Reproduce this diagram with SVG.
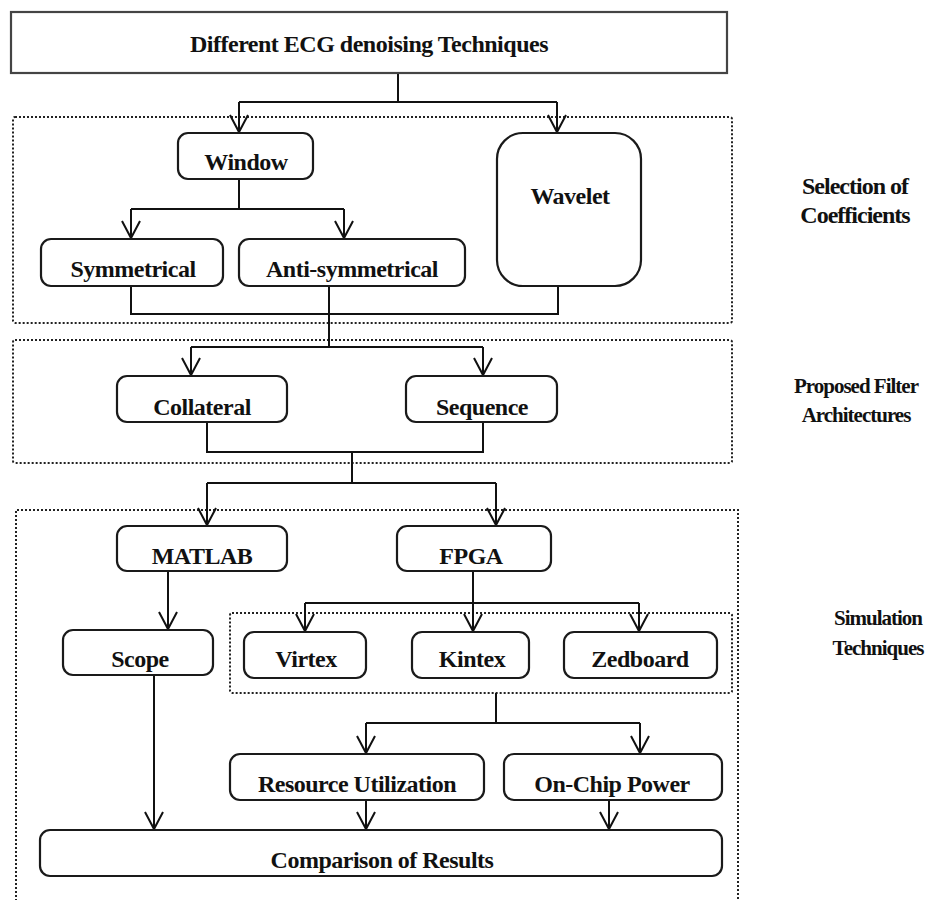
<svg xmlns="http://www.w3.org/2000/svg" width="929" height="900" viewBox="0 0 929 900">
<defs>
<style>
.box{fill:#fff;stroke:#1a1a1a;stroke-width:2.2}
.top{fill:#fff;stroke:#444;stroke-width:2.2}
.dash{fill:none;stroke:#222;stroke-width:2;stroke-dasharray:2 2}
.c{fill:none;stroke:#111;stroke-width:2}
.t{font-family:"Liberation Serif","Times New Roman",serif;font-weight:bold;font-size:24px;fill:#111;text-anchor:middle;letter-spacing:-0.5px}
.l{font-family:"Liberation Serif","Times New Roman",serif;font-weight:bold;font-size:24px;fill:#111;text-anchor:middle;letter-spacing:-1px}
.s{font-family:"Liberation Serif","Times New Roman",serif;font-weight:bold;font-size:21px;fill:#111;text-anchor:middle;letter-spacing:-1px}
</style>
<marker id="ah" markerWidth="40" markerHeight="40" viewBox="-20 -20 40 40" refX="0" refY="0" orient="auto" markerUnits="userSpaceOnUse">
<path d="M-17,-9 L0,0 L-17,9" fill="none" stroke="#111" stroke-width="2"/>
</marker>
</defs>
<rect width="929" height="900" fill="#fff"/>

<g id="groups">
<rect class="dash" x="13" y="117" width="719" height="206" rx="2"/>
<rect class="dash" x="13" y="340" width="719" height="123" rx="2"/>
<path class="dash" d="M16,905 V510 H738 V905"/>
<rect class="dash" x="230" y="613" width="502" height="80" rx="2"/>
</g>

<g id="connectors">
<path class="c" d="M398,73 V102 M239,102 H557"/>
<path class="c" d="M239,102 V132" marker-end="url(#ah)"/>
<path class="c" d="M557,102 V132" marker-end="url(#ah)"/>
<path class="c" d="M239,179 V209 M131,209 H344"/>
<path class="c" d="M131,209 V238" marker-end="url(#ah)"/>
<path class="c" d="M344,209 V238" marker-end="url(#ah)"/>
<path class="c" d="M131,286 V314 H558 V286 M329,286 V347 M191,347 H483"/>
<path class="c" d="M191,347 V375" marker-end="url(#ah)"/>
<path class="c" d="M483,347 V375" marker-end="url(#ah)"/>
<path class="c" d="M207,422 V452 H483 V422 M352,452 V483 M207,483 H496"/>
<path class="c" d="M207,483 V525" marker-end="url(#ah)"/>
<path class="c" d="M496,483 V525" marker-end="url(#ah)"/>
<path class="c" d="M168,571 V629" marker-end="url(#ah)"/>
<path class="c" d="M473,571 V631" marker-end="url(#ah)"/>
<path class="c" d="M305,603 H639"/>
<path class="c" d="M305,603 V631" marker-end="url(#ah)"/>
<path class="c" d="M639,603 V631" marker-end="url(#ah)"/>
<path class="c" d="M496,693 V723 M366,723 H640"/>
<path class="c" d="M366,723 V753" marker-end="url(#ah)"/>
<path class="c" d="M640,723 V753" marker-end="url(#ah)"/>
<path class="c" d="M366,800 V829" marker-end="url(#ah)"/>
<path class="c" d="M609,800 V829" marker-end="url(#ah)"/>
<path class="c" d="M154,675 V829" marker-end="url(#ah)"/>
</g>

<g id="n-top"><rect class="top" x="11" y="12" width="716" height="61"/><text class="t" x="369" y="52">Different ECG denoising Techniques</text></g>
<g id="n-window"><rect class="box" x="178" y="133" width="135" height="46" rx="10"/><text class="t" x="246" y="170">Window</text></g>
<g id="n-wavelet"><rect class="box" x="497" y="133" width="144" height="153" rx="26"/><text class="t" x="570" y="204">Wavelet</text></g>
<g id="n-sym"><rect class="box" x="41" y="239" width="182" height="47" rx="10"/><text class="t" x="133" y="277">Symmetrical</text></g>
<g id="n-anti"><rect class="box" x="239" y="239" width="226" height="47" rx="10"/><text class="t" x="352" y="277">Anti-symmetrical</text></g>
<g id="n-coll"><rect class="box" x="117" y="376" width="170" height="46" rx="10"/><text class="t" x="202" y="415">Collateral</text></g>
<g id="n-seq"><rect class="box" x="406" y="376" width="151" height="46" rx="10"/><text class="t" x="482" y="415">Sequence</text></g>
<g id="n-matlab"><rect class="box" x="117" y="526" width="170" height="45" rx="10"/><text class="t" x="202" y="564">MATLAB</text></g>
<g id="n-fpga"><rect class="box" x="397" y="526" width="154" height="45" rx="10"/><text class="t" x="471" y="564">FPGA</text></g>
<g id="n-scope"><rect class="box" x="63" y="630" width="150" height="45" rx="10"/><text class="t" x="140" y="667">Scope</text></g>
<g id="n-virtex"><rect class="box" x="244" y="632" width="122" height="46" rx="10"/><text class="t" x="306" y="667">Virtex</text></g>
<g id="n-kintex"><rect class="box" x="412" y="632" width="117" height="46" rx="10"/><text class="t" x="472" y="667">Kintex</text></g>
<g id="n-zed"><rect class="box" x="564" y="632" width="153" height="46" rx="10"/><text class="t" x="640" y="667">Zedboard</text></g>
<g id="n-res"><rect class="box" x="230" y="754" width="254" height="46" rx="10"/><text class="t" x="357" y="792">Resource Utilization</text></g>
<g id="n-power"><rect class="box" x="504" y="754" width="218" height="46" rx="10"/><text class="t" x="612" y="792">On-Chip Power</text></g>
<g id="n-comp"><rect class="box" x="40" y="830" width="682" height="46" rx="10"/><text class="t" x="382" y="868">Comparison of Results</text></g>

<g id="labels">
<text class="l" x="855" y="194">Selection of</text>
<text class="l" x="855" y="223">Coefficients</text>
<text class="s" x="856" y="393">Proposed Filter</text>
<text class="s" x="856" y="422">Architectures</text>
<text class="s" x="878" y="625">Simulation</text>
<text class="s" x="878" y="655">Techniques</text>
</g>
</svg>
